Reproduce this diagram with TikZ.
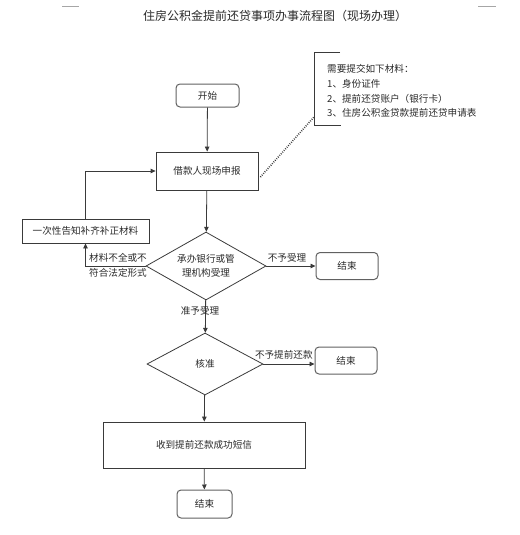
\documentclass[tikz,border=0pt]{standalone}
\usepackage{fontspec}
\newfontfamily\cjk{Noto Sans CJK SC}
\usepackage{tikz}
\usetikzlibrary{arrows.meta,calc,positioning,shapes.geometric}
\definecolor{lineg}{HTML}{3A3A3A}
\definecolor{textg}{HTML}{2A2A2A}

\begin{document}
\begin{tikzpicture}[x=1pt,y=-1pt,
  every node/.style={font=\cjk\fontsize{9.6}{14}\selectfont,text=textg,inner sep=0pt},
  term/.style={draw=lineg!80,line width=1pt,rounded corners=4pt,minimum width=62pt,minimum height=27pt},
  proc/.style={draw=lineg,line width=0.8pt},
  dec/.style={draw=lineg,line width=0.8pt,diamond,aspect=1.8,align=center},
  arr/.style={draw=lineg,line width=0.8pt,-{Triangle[length=5pt,width=4.5pt]}}]
  \useasboundingbox (0,0) rectangle (519,535);

  \draw[gray!70,line width=0.8pt] (62,6) -- (79,6);
  \draw[gray!70,line width=0.8pt] (478,6) -- (496,6);
  \node[font=\cjk\fontsize{12}{14}\selectfont] (title) at (275,16) {住房公积金提前还贷事项办事流程图（现场办理）};

  \node[term,minimum width=63pt,minimum height=23pt] (start) at (207.5,95.5) {开始};
  \node[proc,minimum width=102pt,minimum height=38pt] (apply) at (207,171) {借款人现场申报};
  \node[proc,minimum width=127pt,minimum height=24pt] (fix) at (85.5,231) {一次性告知补齐补正材料};
  \node[dec,minimum width=120pt,minimum height=68pt] (check) at (206,266) {承办银行或管\\理机构受理};
  \node[term] (end1) at (347,266) {结束};
  \node[dec,minimum width=116pt,minimum height=62pt] (approve) at (205,364) {核准};
  \node[term] (end2) at (346,360.5) {结束};
  \node[proc,minimum width=202pt,minimum height=46pt] (sms) at (204,445) {收到提前还款成功短信};
  \node[term,minimum width=55pt,minimum height=28pt] (end3) at (204.5,504) {结束};

  \node[align=left,anchor=west,font=\cjk\fontsize{9.6}{14.7}\selectfont] (note) at (327,91) {需要提交如下材料：\\1、身份证件\\2、提前还贷账户（银行卡）\\3、住房公积金贷款提前还贷申请表};
  \draw[lineg,line width=0.8pt] (340,52) -- (314,52) -- (314,125) -- (341,125);
  \coordinate (nb) at (314,117);
  \draw[lineg,line width=1.6pt,dash pattern=on 0.8pt off 1.4pt] ($(apply.east)+(2,6)$) -- (nb);

  \draw[arr] (start) -- (apply);
  \draw[arr] (apply) -- (check);
  \draw[arr] (check.west) -| (fix.south);
  \draw[arr] (fix.north) |- (apply.west);
  \draw[arr] (check) -- (end1) node[above=3pt,pos=0.42] (lab1) {不予受理};
  \draw[arr] (check) -- (approve);
  \draw[arr] (approve.east) -- (approve.east -| end2.west) node[above=4pt,pos=0.4] (lab2) {不予提前还款};
  \draw[arr] (approve) -- (sms);
  \draw[arr] (sms) -- (end3);

  \node[align=center,font=\cjk\fontsize{9.6}{15}\selectfont] (lab3) at (118,265.5) {材料不全或不\\符合法定形式};
  \node (lab4) at (200,311) {准予受理};
\end{tikzpicture}
\end{document}
